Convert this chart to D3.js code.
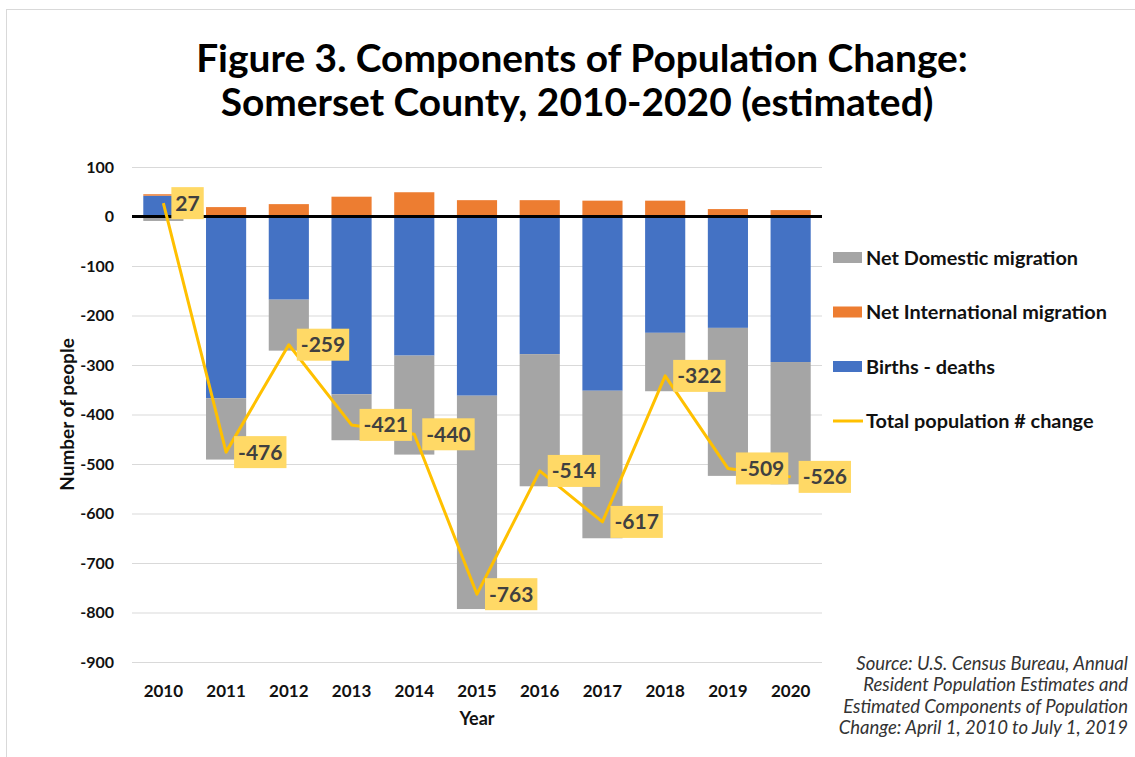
<!DOCTYPE html>
<html>
<head>
<meta charset="utf-8">
<script src="https://cdn.jsdelivr.net/npm/d3@7"></script>
<style>
  body { margin: 0; background: #fff; }
  svg { display: block; font-family: Lato, "Open Sans", sans-serif; }
</style>
</head>
<body>
<div id="chart"></div>
<script>
// data
var years = ["2010", "2011", "2012", "2013", "2014", "2015", "2016", "2017", "2018", "2019", "2020"];
var birthsDeaths = [42, -367, -168, -359, -281, -362, -278, -352, -235, -225, -294];
var intlMigration = [3, 19, 25, 40, 49, 33, 33, 32, 32, 15, 13];
var domesticMigration = [-9, -124, -103, -93, -200, -431, -267, -298, -118, -299, -247];
var totalChange = [27, -476, -259, -421, -440, -763, -514, -617, -322, -509, -526];
var yTicks = [100, 0, -100, -200, -300, -400, -500, -600, -700, -800, -900];

var titleLines = ["Figure 3. Components of Population Change:", "Somerset County, 2010-2020 (estimated)"];
var sourceLines = ["Source: U.S. Census Bureau, Annual", "Resident Population Estimates and",
                   "Estimated Components of Population", "Change: April 1, 2010 to July 1, 2019"];

var legendItems = [
  {name: "Net Domestic migration", color: "#A5A5A5", type: "bar"},
  {name: "Net International migration", color: "#ED7D31", type: "bar"},
  {name: "Births - deaths", color: "#4472C4", type: "bar"},
  {name: "Total population # change", color: "#FFC000", type: "line"}
];

var width = 1135, height = 757;
var plot = {left: 132, right: 822, top: 167, bottom: 662};

var svg = d3.select("#chart").append("svg")
  .attr("width", width)
  .attr("height", height);

// chart area border
svg.append("rect")
  .attr("x", 6.5).attr("y", 9.5)
  .attr("width", width + 10).attr("height", height + 10)
  .attr("fill", "none").attr("stroke", "#D9D9D9");

// scale text so it spans a given width
function fitWidth(sel, w) {
  var fs = parseFloat(sel.attr("font-size"));
  var len = sel.node().getComputedTextLength();
  var size = fs * w / len;
  sel.attr("font-size", size);
  return size;
}

// title
var t1 = svg.append("text").attr("x", 582).attr("y", 72)
  .attr("text-anchor", "middle").attr("font-size", 36).attr("font-weight", "bold")
  .attr("fill", "#000").text(titleLines[0]);
var tSize = fitWidth(t1, 772);
svg.append("text").attr("x", 577).attr("y", 116)
  .attr("text-anchor", "middle").attr("font-size", tSize).attr("font-weight", "bold")
  .attr("fill", "#000").text(titleLines[1]);

var x = d3.scaleBand().domain(years)
  .range([plot.left, plot.right])
  .paddingInner(0.36).paddingOuter(0.18);

var y = d3.scaleLinear().domain([-900, 100]).range([plot.bottom, plot.top]);

// gridlines + y labels (plain hyphen for negatives, as in the original)
var yAxis = svg.append("g")
  .attr("transform", "translate(" + plot.left + ",0)")
  .call(d3.axisLeft(y).tickValues(yTicks)
    .tickFormat(function(d) { return String(d); })
    .tickSize(-(plot.right - plot.left)).tickPadding(18));
yAxis.select(".domain").remove();
yAxis.selectAll("line").attr("stroke", "#D9D9D9").attr("stroke-width", 1);
yAxis.selectAll("text")
  .attr("font-family", "Lato, sans-serif")
  .attr("font-size", 16).attr("font-weight", "bold").attr("fill", "#111");

// x labels
var xAxis = svg.append("g")
  .attr("transform", "translate(0," + plot.bottom + ")")
  .call(d3.axisBottom(x).tickSize(0).tickPadding(23));
xAxis.select(".domain").remove();
xAxis.selectAll("text")
  .attr("font-family", "Lato, sans-serif")
  .attr("font-size", 17).attr("font-weight", "bold").attr("fill", "#111");

// stacked bars
var rows = years.map(function(yr, i) {
  return {year: yr, births: birthsDeaths[i], intl: intlMigration[i], domestic: domesticMigration[i]};
});
var keys = ["births", "intl", "domestic"];
var colors = {births: "#4472C4", intl: "#ED7D31", domestic: "#A5A5A5"};

var series = d3.stack().keys(keys).offset(d3.stackOffsetDiverging)(rows);

svg.append("g").selectAll("g")
  .data(series)
  .join("g")
  .attr("fill", function(d) { return colors[d.key]; })
  .selectAll("rect")
  .data(function(d) { return d; })
  .join("rect")
  .attr("x", function(d) { return x(d.data.year); })
  .attr("width", x.bandwidth())
  .attr("y", function(d) { return y(Math.max(d[0], d[1])); })
  .attr("height", function(d) { return Math.abs(y(d[0]) - y(d[1])); });

// zero line
svg.append("line")
  .attr("x1", plot.left).attr("x2", plot.right)
  .attr("y1", y(0)).attr("y2", y(0))
  .attr("stroke", "#000").attr("stroke-width", 3);

// total change line
var line = d3.line()
  .x(function(d, i) { return x(years[i]) + x.bandwidth() / 2; })
  .y(function(d) { return y(d); });

svg.append("path")
  .attr("d", line(totalChange))
  .attr("fill", "none")
  .attr("stroke", "#FFC000")
  .attr("stroke-width", 3)
  .attr("stroke-linejoin", "round");

// data labels, right of each point
var labels = svg.append("g").selectAll("g")
  .data(totalChange)
  .join("g")
  .attr("transform", function(d, i) {
    return "translate(" + (x(years[i]) + x.bandwidth() / 2 + 8) + "," + y(d) + ")";
  });

labels.each(function(d) {
  var g = d3.select(this);
  var rect = g.append("rect").attr("fill", "#FFD966");
  var txt = g.append("text")
    .attr("x", 4).attr("y", 0).attr("dy", "0.36em")
    .attr("font-size", 21).attr("font-weight", "bold").attr("fill", "#404040")
    .text(d);
  var w = txt.node().getComputedTextLength();
  rect.attr("x", 0).attr("y", -16).attr("width", w + 8).attr("height", 32);
});

// axis titles
svg.append("text")
  .attr("transform", "translate(74," + (plot.top + plot.bottom) / 2 + ") rotate(-90)")
  .attr("text-anchor", "middle").attr("font-size", 19).attr("font-weight", "bold")
  .attr("fill", "#111").text("Number of people");

svg.append("text")
  .attr("x", (plot.left + plot.right) / 2).attr("y", 725)
  .attr("text-anchor", "middle").attr("font-size", 18).attr("font-weight", "bold")
  .attr("fill", "#111").text("Year");

// legend
var legend = svg.append("g").selectAll("g")
  .data(legendItems)
  .join("g")
  .attr("transform", function(d, i) { return "translate(833," + (257.5 + i * 54.5) + ")"; });

legend.filter(function(d) { return d.type === "bar"; })
  .append("rect")
  .attr("x", 0).attr("y", -5.5).attr("width", 29).attr("height", 11)
  .attr("fill", function(d) { return d.color; });

legend.filter(function(d) { return d.type === "line"; })
  .append("line")
  .attr("x1", 0).attr("x2", 30).attr("y1", 0).attr("y2", 0)
  .attr("stroke", function(d) { return d.color; }).attr("stroke-width", 3);

var legText = legend.append("text")
  .attr("x", 33).attr("dy", "0.36em")
  .attr("font-size", 17).attr("font-weight", "bold").attr("fill", "#111")
  .text(function(d) { return d.name; });
var legSize = fitWidth(d3.select(legText.nodes()[1]), 241);
legText.attr("font-size", legSize);

// source note
var src = svg.append("g").selectAll("text")
  .data(sourceLines)
  .join("text")
  .attr("x", 1128)
  .attr("y", function(d, i) { return 670 + i * 21.3; })
  .attr("text-anchor", "end")
  .attr("font-size", 15).attr("font-style", "italic").attr("fill", "#333")
  .text(function(d) { return d; });
var srcSize = fitWidth(d3.select(src.nodes()[2]), 285);
src.attr("font-size", srcSize);
</script>
</body>
</html>
